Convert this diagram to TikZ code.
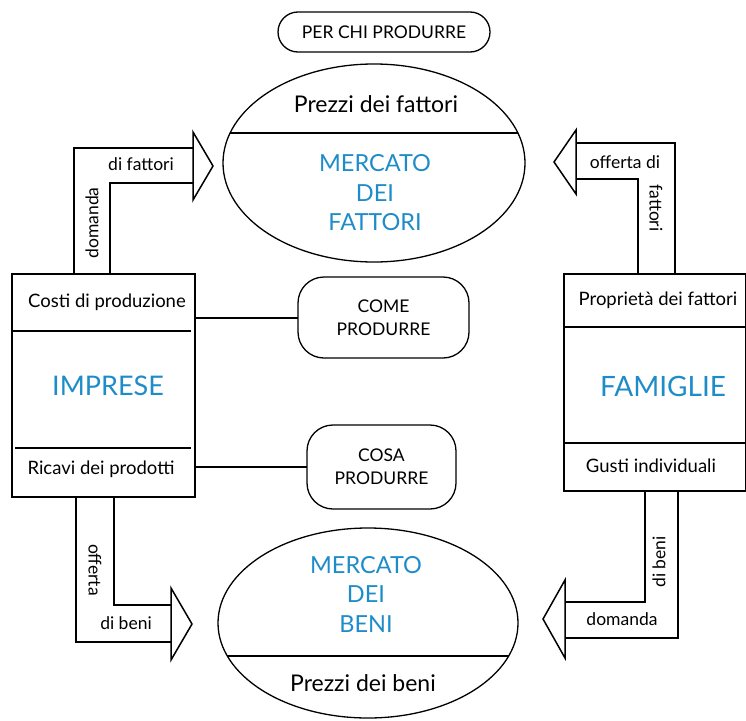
\documentclass[tikz,border=0pt]{standalone}
\usepackage{fontspec}
\setmainfont{Lato}
\usetikzlibrary{shapes.geometric}
\definecolor{blu}{RGB}{30,140,200}

\begin{document}
\begin{tikzpicture}[x=1pt,y=-1pt,
	box/.style={draw,line width=1.7pt,inner sep=0,outer sep=0},
	pill/.style={draw,line width=1.3pt,rounded corners=20pt,inner sep=0,outer sep=0,align=center,font=\fontsize{17.5}{23}\selectfont},
	oval/.style={draw,ellipse,line width=1.3pt,inner sep=0,outer sep=0},
	txt/.style={font=\fontsize{18.5}{21}\selectfont},
	big/.style={text=blu,align=center,font=\fontsize{23.5}{29.5}\selectfont},
	lab/.style={font=\fontsize{17.5}{20}\selectfont},
	freccia/.style={line width=1.5pt,line join=miter}]
	\useasboundingbox (0,0) rectangle (746,720);
	% blocchi
	\node[box,minimum width=183pt,minimum height=223pt] (1) at (103.5,385.5) {};
	\node[box,minimum width=182pt,minimum height=217pt] (2) at (655,382.5) {};
	\node[oval,minimum width=302pt,minimum height=198pt] (3) at (374,163) {};
	\node[oval,minimum width=300pt,minimum height=190pt] (4) at (368,623) {};
	\node[pill,minimum width=212pt,minimum height=40pt] (5) at (384,32) {PER CHI PRODURRE};
	\node[pill,rounded corners=26pt,minimum width=171pt,minimum height=81pt] (6) at (383.5,317.5) {COME\\PRODURRE};
	\node[pill,rounded corners=26pt,minimum width=149pt,minimum height=84pt] (7) at (381.5,467) {COSA\\PRODURRE};
	% righe interne
	\draw[line width=1.7pt] (13,331) -- (191,331);
	\draw[line width=1.7pt] (15,448) -- (191,448);
	\draw[line width=1.7pt] (564,327) -- (746,327);
	\draw[line width=1.7pt] (564,443) -- (746,443);
	\begin{scope}
		\clip (374,163) ellipse [x radius=151, y radius=99];
		\draw[line width=1.3pt] (200,133) -- (550,133);
	\end{scope}
	\begin{scope}
		\clip (368,623) ellipse [x radius=150, y radius=95];
		\draw[line width=1.3pt] (200,656) -- (550,656);
	\end{scope}
	% testi
	\node[txt] (8) at (107,302) {Costi di produzione};
	\node[big,font=\fontsize{27}{30}\selectfont] (9) at (108,386) {IMPRESE};
	\node[txt] (10) at (101,469) {Ricavi dei prodotti};
	\node[txt] (11) at (658,300) {Proprietà dei fattori};
	\node[big,font=\fontsize{28}{30}\selectfont] (12) at (663,386) {FAMIGLIE};
	\node[txt] (13) at (651,466) {Gusti individuali};
	\node[txt,font=\fontsize{23}{26}\selectfont] (14) at (376,104) {Prezzi dei fattori};
	\node[big] (15) at (375,193) {MERCATO\\DEI\\FATTORI};
	\node[big] (16) at (366,594) {MERCATO\\DEI\\BENI};
	\node[txt,font=\fontsize{23}{26}\selectfont] (17) at (363,683) {Prezzi dei beni};
	% collegamenti
	\draw[line width=2pt] (1.east |- 6.west) -- (6.west);
	\draw[line width=2pt] (1.east |- 7.west) -- (7.west);
	% frecce larghe
	\draw[freccia] (74,274) -- (74,148) -- (193,148);
	\draw[freccia] (110,274) -- (110,183) -- (193,183);
	\draw[freccia] (193,132) -- (213,166) -- (193,200) -- cycle;
	\draw[freccia] (675,274) -- (675,143) -- (576,143);
	\draw[freccia] (638,274) -- (638,179) -- (576,179);
	\draw[freccia] (576,130) -- (554,162) -- (576,194) -- cycle;
	\draw[freccia] (76,497) -- (76,642) -- (171,642);
	\draw[freccia] (114,497) -- (114,605) -- (171,605);
	\draw[freccia] (171,588) -- (192,624) -- (171,660) -- cycle;
	\draw[freccia] (678,491) -- (678,638) -- (565,638);
	\draw[freccia] (645,491) -- (645,602) -- (565,602);
	\draw[freccia] (565,580) -- (543,619) -- (565,658) -- cycle;
	% etichette
	\node[lab,rotate=90] (18) at (92,223) {domanda};
	\node[lab] (19) at (141,164) {di fattori};
	\node[lab] (20) at (625,162) {offerta di};
	\node[lab,rotate=-90] (21) at (656,208) {fattori};
	\node[lab,rotate=-90] (22) at (95,570) {offerta};
	\node[lab] (23) at (126,623) {di beni};
	\node[lab,rotate=90] (24) at (659,562) {di beni};
	\node[lab] (25) at (622,619) {domanda};
\end{tikzpicture}
\end{document}
